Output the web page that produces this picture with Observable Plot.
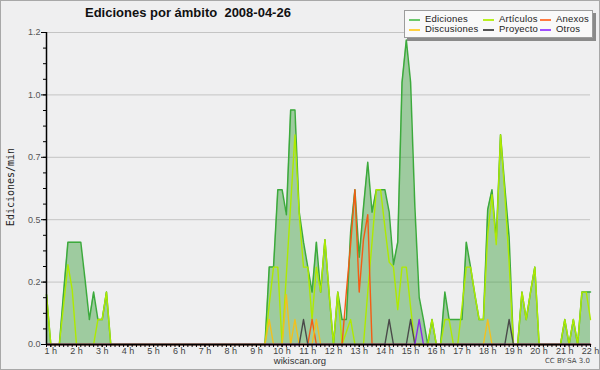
<!DOCTYPE html>
<html><head><meta charset="utf-8">
<script src="https://cdn.jsdelivr.net/npm/d3@7"></script>
<script src="https://cdn.jsdelivr.net/npm/@observablehq/plot@0.6"></script>
<style>
html,body{margin:0;padding:0;background:#efeff0}
#wrap{position:relative;width:600px;height:370px;background:#efeff0;overflow:hidden}
#wrap svg{position:absolute;left:0;top:0}
#frame{position:absolute;left:0;top:0;width:598px;height:368px;border:1px solid #a8a8a8;pointer-events:none}
#title{position:absolute;left:85px;top:5px;font:bold 13px "Liberation Sans",sans-serif;color:#111;white-space:pre}
#ylab{position:absolute;left:10px;top:187px;font:10px "DejaVu Sans Mono",monospace;color:#222;transform:translate(-50%,-50%) rotate(-90deg);white-space:pre}
#site{position:absolute;left:300px;top:355px;transform:translateX(-50%);font:9.5px "Liberation Sans",sans-serif;color:#333}
#lic{position:absolute;right:10px;top:357px;font:7px "DejaVu Sans",sans-serif;color:#444}
#legend{position:absolute;left:404px;top:10px;width:187px;height:26px;background:#f9f9f9;border:1px solid #9c9c9c;box-shadow:3px 3px 0 #8a8a8a}
.li{position:absolute;font:9.5px "Liberation Sans",sans-serif;color:#222;white-space:pre;line-height:10px;letter-spacing:0.2px}
.sw{position:absolute;height:1.5px}
</style></head>
<body><div id="wrap"><div id="frame"></div></div>
<script>
// ---- data: edits per minute, 10-minute samples starting 00:50 ----
const startMinute = 50;
const stepMinute = 10;
const ediciones = [
 .20,0,0,0,.21,.41,.41,.41,.41,.26, .10,.21,.10,.10,.21,0,0,0,0,0,
 0,0,0,0,0,0,0,0,0,0, 0,0,0,0,0,0,0,0,0,0,
 0,0,0,0,0,0,0,0,0,0, 0,0,.31,.31,.62,.62,.52,.94,.94,.53,
 .41,.31,.21,.41,.21,.42,.20,0,.21,.10, .10,.45,.62,.35,.55,.73,.53,.62,.62,.62,
 .53,.32,.41,1.05,1.22,1.05,.55,.19,.10,0, .10,0,0,.21,.10,.10,.10,.10,.41,.31,
 .20,.10,.10,.54,.62,.42,.84,.63,.43,0, 0,.21,.10,.21,.31,0,0,0,0,0,
 0,.10,0,.10,0,.21,.21,.21
];
const articulos = [
 .20,0,0,0,.16,.32,.22,0,0,0, 0,0,.10,.10,.21,0,0,0,0,0,
 0,0,0,0,0,0,0,0,0,0, 0,0,0,0,0,0,0,0,0,0,
 0,0,0,0,0,0,0,0,0,0, 0,0,.16,.31,.31,0,.28,.56,.84,.52,
 .31,.31,.10,.31,.21,.42,.20,0,.21,0, .05,.10,0,0,0,.21,.41,.62,.62,.47,
 .33,.31,.14,.31,.31,.15,0,0,0,0, .10,0,0,.10,.10,0,0,.15,.31,.31,
 .20,.10,.10,.44,.60,.40,.84,.60,.33,0, 0,.21,.10,.21,.31,0,0,0,0,0,
 0,.10,0,.10,0,.21,.21,.10
];
const anexos = [
 0,0,0,0,0,0,0,0,0,0, 0,0,0,0,0,0,0,0,0,0,
 0,0,0,0,0,0,0,0,0,0, 0,0,0,0,0,0,0,0,0,0,
 0,0,0,0,0,0,0,0,0,0, 0,0,0,0,0,0,0,0,0,0,
 0,0,.10,0,0,0,0,0,0,0, .21,.40,.62,.21,.42,.52,0,0,0,0,
 0,0,0,0,0,0,0,0,0,0, 0,0,0,0,0,0,0,0,0,0,
 0,0,0,0,0,0,0,0,0,0, 0,0,0,0,0,0,0,0,0,0,
 0,0,0,0,0,0,0,0
];
const discusiones = [
 0,0,0,0,0,0,0,0,0,0, 0,0,0,0,0,0,0,0,0,0,
 0,0,0,0,0,0,0,0,0,0, 0,0,0,0,0,0,0,0,0,0,
 0,0,0,0,0,0,0,0,0,0, 0,0,.10,0,0,0,.20,0,.10,0,
 0,0,0,.10,0,0,0,0,0,0, 0,0,0,0,0,0,0,0,0,0,
 0,0,0,0,0,0,0,0,0,0, 0,0,0,0,0,0,0,0,0,0,
 0,0,0,.10,0,0,0,0,0,0, 0,0,0,0,0,0,0,0,0,0,
 0,0,0,0,0,0,0,0
];
const proyecto = [
 0,0,0,0,0,0,0,0,0,0, 0,0,0,0,0,0,0,0,0,0,
 0,0,0,0,0,0,0,0,0,0, 0,0,0,0,0,0,0,0,0,0,
 0,0,0,0,0,0,0,0,0,0, 0,0,0,0,0,0,0,0,0,0,
 .10,0,0,0,0,0,0,0,0,0, 0,0,0,0,0,0,0,0,0,0,
 .10,0,0,0,0,.10,0,0,0,0, 0,0,0,0,0,0,0,0,0,0,
 0,0,0,0,0,0,0,0,.10,0, 0,0,0,0,0,0,0,0,0,0,
 0,0,0,0,0,0,0,0
];
const otros = [
 0,0,0,0,0,0,0,0,0,0, 0,0,0,0,0,0,0,0,0,0,
 0,0,0,0,0,0,0,0,0,0, 0,0,0,0,0,0,0,0,0,0,
 0,0,0,0,0,0,0,0,0,0, 0,0,0,0,0,0,0,0,0,0,
 0,0,0,0,0,0,0,0,0,0, 0,0,0,0,0,0,0,0,0,0,
 0,0,0,0,0,0,0,.10,0,0, 0,0,0,0,0,0,0,0,0,0,
 0,0,0,0,0,0,0,0,0,0, 0,0,0,0,0,0,0,0,0,0,
 0,0,0,0,0,0,0,0
];
const seriesNames = ["Ediciones","Artículos","Anexos","Discusiones","Proyecto","Otros"];
const yTickValues = [0, 0.25, 0.5, 0.75, 1.0, 1.25];
const yTickLabels = ["0.0","0.2","0.5","0.7","1.0","1.2"];
const hourTicks = [1,2,3,4,5,6,7,8,9,10,11,12,13,14,15,16,17,18,19,20,21,22];
const hourLabels = ["1 h","2 h","3 h","4 h","5 h","6 h","7 h","8 h","9 h","10 h","11 h","12 h","13 h","14 h","15 h","16 h","17 h","18 h","19 h","20 h","21 h","22 h"];
const titleText = "Ediciones por ámbito  2008-04-26";
const yLabelText = "Ediciones/min";

// ---- styles ----
const colors = {
  "Ediciones": "#3caa3c", "Artículos": "#aeea00", "Anexos": "#f45c14",
  "Discusiones": "#f2c01e", "Proyecto": "#4a4a4a", "Otros": "#8a2be2"
};
const legendColors = {
  "Ediciones": "#6cc86c", "Artículos": "#b8f020", "Anexos": "#ff7a40",
  "Discusiones": "#ffd040", "Proyecto": "#555555", "Otros": "#a050ff"
};

const toRows = arr => arr.map((v, i) => ({t: (startMinute + i * stepMinute) / 60, v}));
const edRows = toRows(ediciones);
const t0 = startMinute / 60;
const t1 = (startMinute + (ediciones.length - 1) * stepMinute) / 60;
const minorX = ediciones.map((_, i) => (startMinute + i * stepMinute) / 60);
const minorY = d3.range(0, 1.25 + 1e-9, 0.0625);

const lines = [
  ["Artículos", articulos], ["Anexos", anexos], ["Discusiones", discusiones],
  ["Proyecto", proyecto], ["Otros", otros]
].map(([name, arr]) => Plot.lineY(toRows(arr), {x: "t", y: "v", stroke: colors[name], strokeWidth: 1.4}));

const chart = Plot.plot({
  width: 600, height: 370,
  marginLeft: 46, marginRight: 10, marginTop: 32, marginBottom: 26,
  style: {background: "transparent", fontFamily: "Liberation Sans, sans-serif", fontSize: "9px", overflow: "visible"},
  x: {domain: [t0, t1], label: null},
  y: {domain: [0, 1.25], label: null},
  marks: [
    Plot.gridY(yTickValues, {stroke: "#c4c4c4", strokeOpacity: 1, strokeWidth: 1}),
    Plot.areaY(edRows, {x: "t", y: "v", fill: "rgb(60,160,60)", fillOpacity: 0.45}),
    Plot.lineY(edRows, {x: "t", y: "v", stroke: colors["Ediciones"], strokeWidth: 1.5}),
    ...lines,
    Plot.axisY(minorY, {tickSize: 3, tickFormat: () => "", stroke: "#000", label: null}),
    Plot.axisY(yTickValues, {tickSize: 5, tickPadding: 1, stroke: "#000", fill: "#555", label: null,
      tickFormat: d => yTickLabels[yTickValues.indexOf(d)]}),
    Plot.axisX(minorX, {tickSize: 3, tickFormat: () => "", stroke: "#000", label: null}),
    Plot.axisX(hourTicks, {tickSize: 3, tickPadding: 0, stroke: "#000", fill: "#444", label: null,
      tickFormat: d => hourLabels[hourTicks.indexOf(d)]}),
    Plot.ruleY([0], {stroke: "#000", strokeWidth: 1.5}),
    Plot.ruleX([t0], {stroke: "#000", strokeWidth: 1.5})
  ]
});
const wrap = document.getElementById("wrap");
wrap.appendChild(chart);

// ---- texts ----
function addDiv(id, text) { const d = document.createElement("div"); d.id = id; d.textContent = text; wrap.appendChild(d); return d; }
addDiv("title", titleText);
addDiv("ylab", yLabelText);
addDiv("site", "wikiscan.org");
addDiv("lic", "CC BY-SA 3.0");

// ---- legend ----
const legend = document.createElement("div"); legend.id = "legend"; wrap.appendChild(legend);
const legendOrder = ["Ediciones","Artículos","Anexos","Discusiones","Proyecto","Otros"];
const colX = [4, 78, 135];
legendOrder.forEach((name, i) => {
  const col = i % 3, row = Math.floor(i / 3);
  const sw = document.createElement("div"); sw.className = "sw";
  sw.style.left = colX[col] + "px"; sw.style.width = "11px";
  sw.style.top = (8 + row * 10) + "px"; sw.style.background = legendColors[name];
  legend.appendChild(sw);
  const tx = document.createElement("div"); tx.className = "li"; tx.textContent = name;
  tx.style.left = (colX[col] + 16) + "px"; tx.style.top = (3 + row * 10) + "px";
  legend.appendChild(tx);
});
</script></body></html>
